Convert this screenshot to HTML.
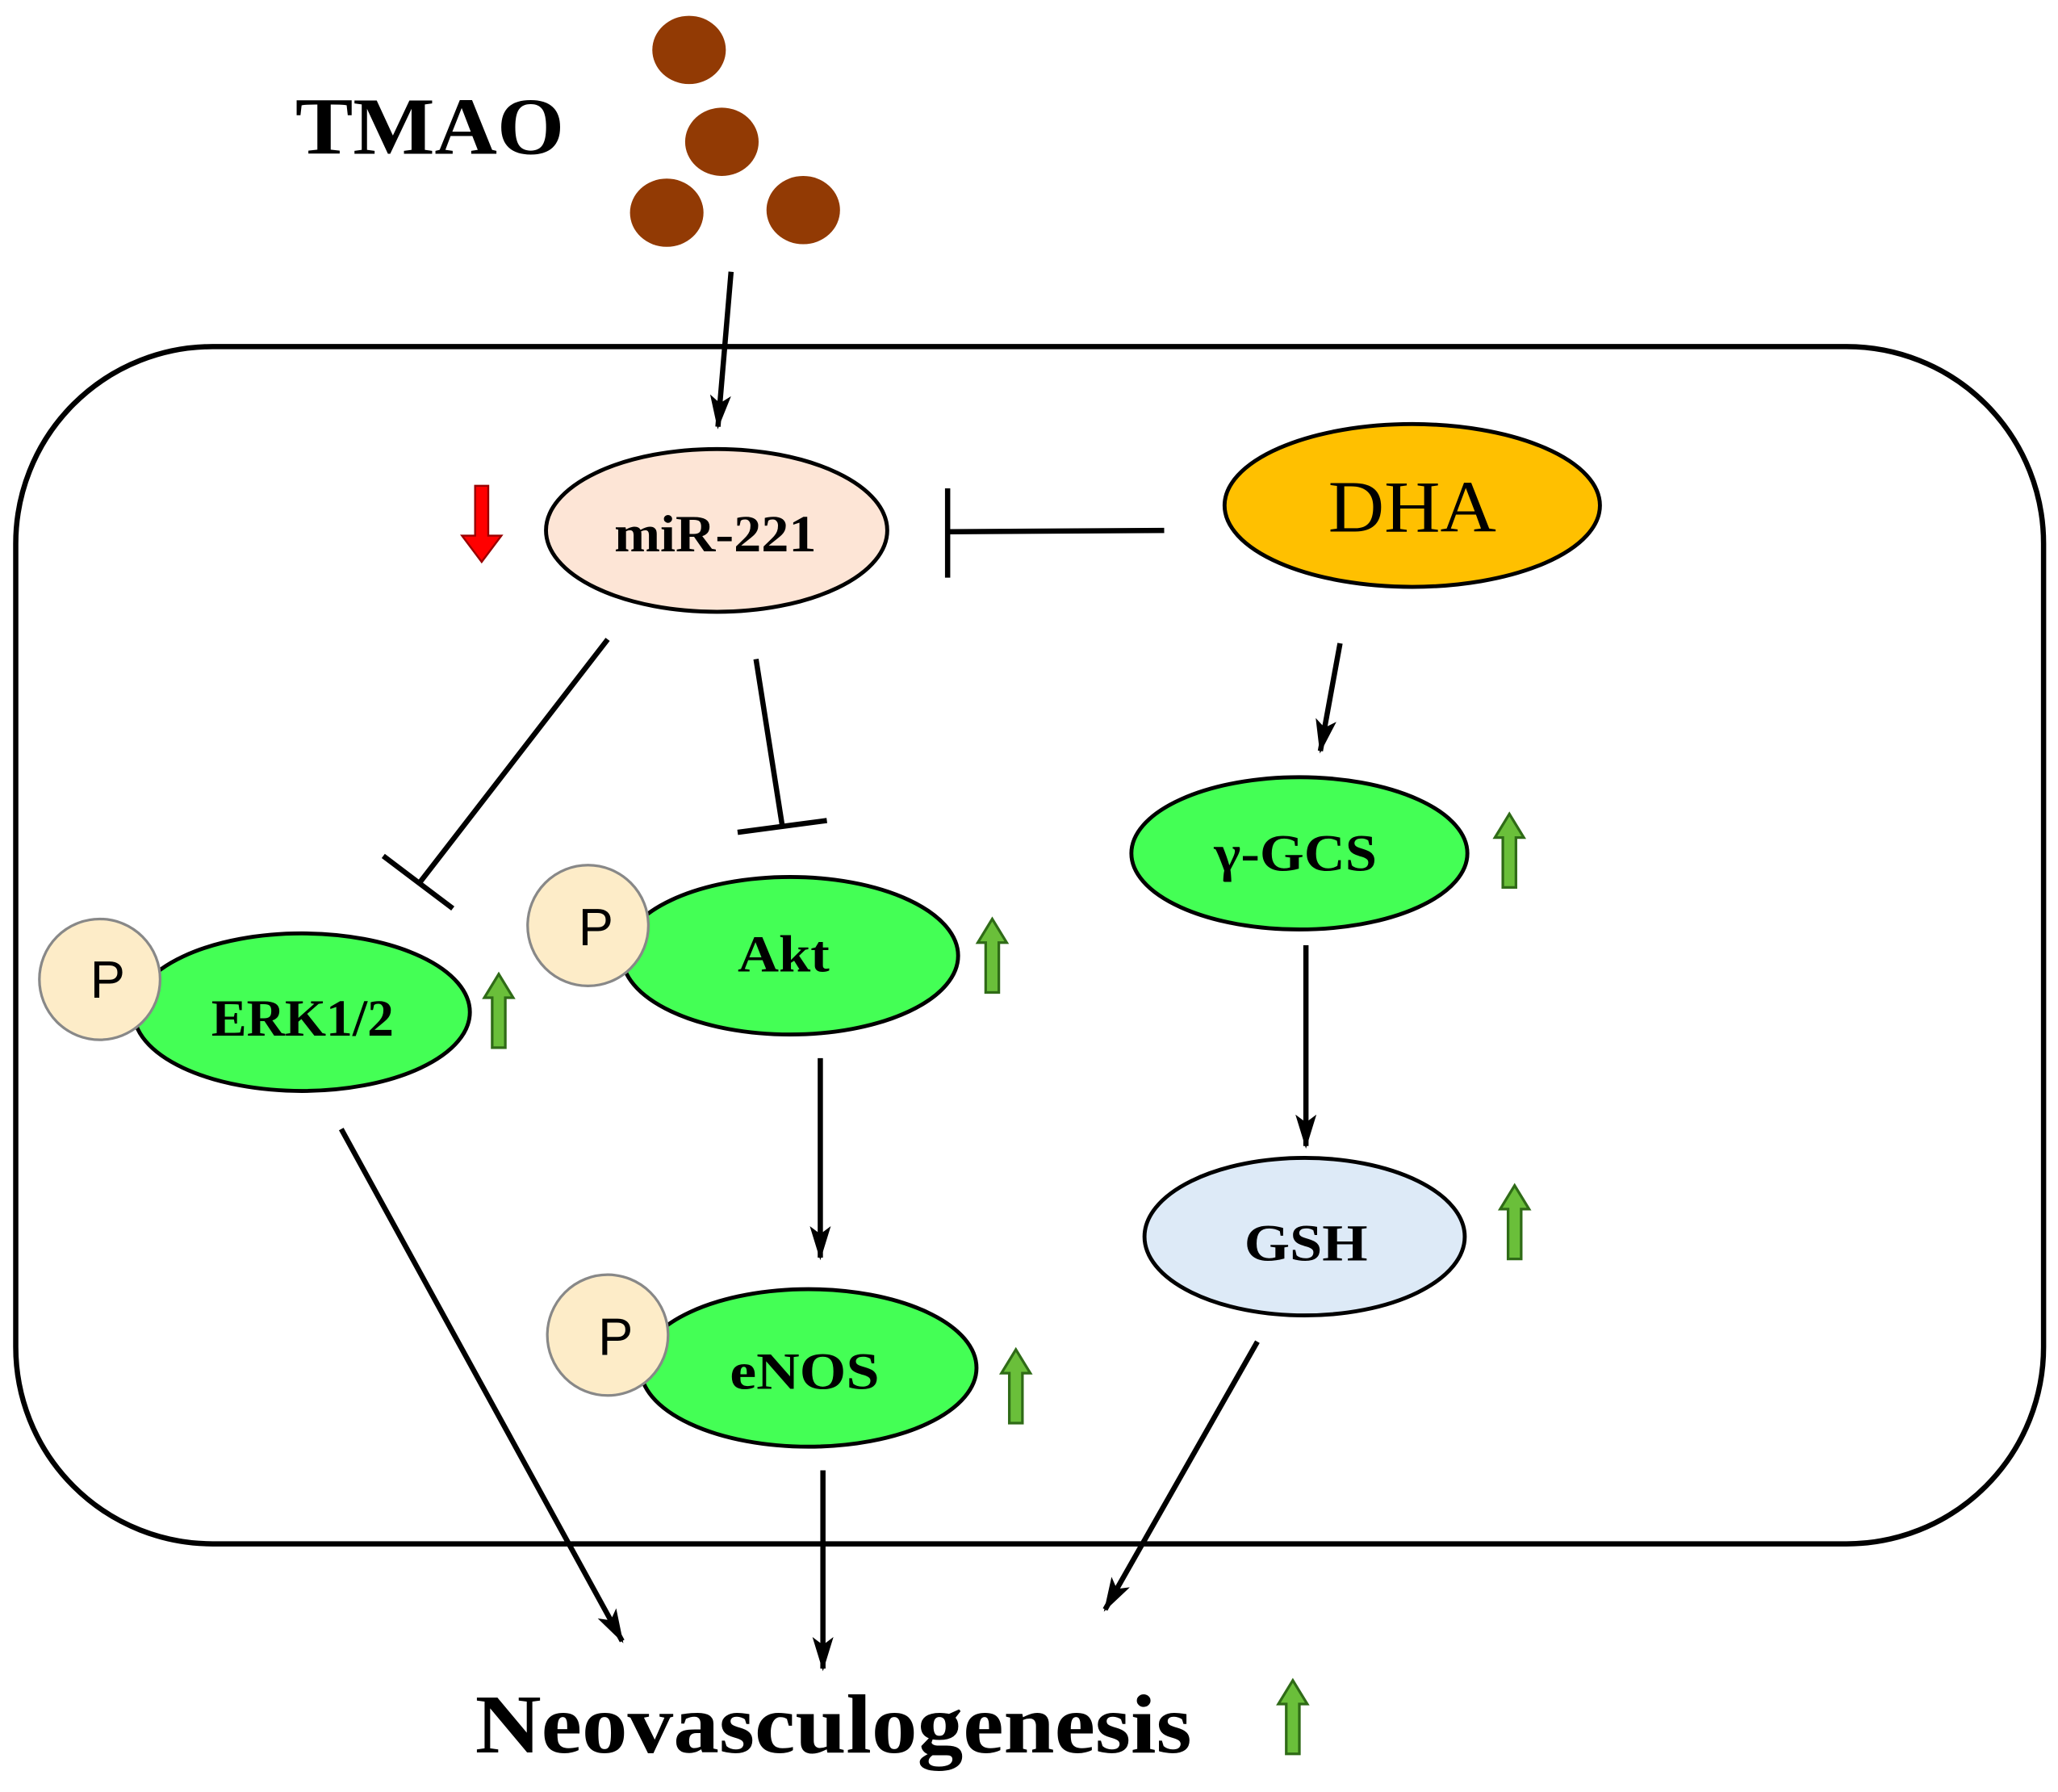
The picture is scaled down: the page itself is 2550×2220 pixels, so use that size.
<!DOCTYPE html>
<html><head><meta charset="utf-8"><style>html,body{margin:0;padding:0;background:#fff}svg{display:block}</style></head>
<body>
<svg width="2550" height="2220" viewBox="0 0 1568 1365" xmlns="http://www.w3.org/2000/svg">
<defs>
<marker id="ah2" markerWidth="26" markerHeight="22" refX="24" refY="11" orient="auto" markerUnits="userSpaceOnUse">
<path d="M0,3 L26,11 L0,19 L6,11 z" fill="#000"/>
</marker>
<g id="up"><path d="M-5,28 L-5,-10 L-11,-10 L0,-28 L11,-10 L5,-10 L5,28 Z" fill="#6abf3a" stroke="#2f6b17" stroke-width="2"/></g>
</defs>
<g font-family="'Liberation Serif',serif">
<text x="225" y="117" font-size="62" font-weight="bold" textLength="205" lengthAdjust="spacingAndGlyphs">TMAO</text>
<ellipse cx="525" cy="38" rx="28" ry="26" fill="#923a04"/>
<ellipse cx="550" cy="108" rx="28" ry="26" fill="#923a04"/>
<ellipse cx="508" cy="162" rx="28" ry="26" fill="#923a04"/>
<ellipse cx="612" cy="160" rx="28" ry="26" fill="#923a04"/>

<rect x="12" y="264" width="1545" height="912" rx="150" ry="150" fill="none" stroke="#000" stroke-width="4"/>

<g stroke="#000" stroke-width="4" fill="none">
<line x1="557" y1="207" x2="547" y2="325" marker-end="url(#ah2)"/>
<line x1="887" y1="404" x2="722" y2="405"/>
<line x1="722" y1="372" x2="722" y2="440"/>
<line x1="463" y1="487" x2="320" y2="672"/>
<line x1="292" y1="652" x2="345" y2="692"/>
<line x1="576" y1="502" x2="596" y2="629"/>
<line x1="562" y1="634" x2="630" y2="625"/>
<line x1="1021" y1="490" x2="1006" y2="572" marker-end="url(#ah2)"/>
<line x1="625" y1="806" x2="625" y2="958" marker-end="url(#ah2)"/>
<line x1="995" y1="720" x2="995" y2="873" marker-end="url(#ah2)"/>
<line x1="958" y1="1022" x2="842" y2="1226" marker-end="url(#ah2)"/>
<line x1="260" y1="860" x2="474" y2="1250" marker-end="url(#ah2)"/>
<line x1="627" y1="1120" x2="627" y2="1271" marker-end="url(#ah2)"/>
</g>

<ellipse cx="546" cy="404" rx="130" ry="62" fill="#fde5d6" stroke="#000" stroke-width="3"/>
<text x="468" y="420" font-size="40" font-weight="bold" textLength="154" lengthAdjust="spacingAndGlyphs">miR-221</text>
<path d="M362,370 L372,370 L372,408 L382,408 L367,428 L352,408 L362,408 Z" fill="#f00" stroke="#900" stroke-width="1.5"/>

<ellipse cx="1076" cy="385" rx="143" ry="62" fill="#ffc000" stroke="#000" stroke-width="3"/>
<text x="1012" y="405" font-size="56" textLength="128" lengthAdjust="spacingAndGlyphs">DHA</text>

<ellipse cx="990" cy="650" rx="128" ry="58" fill="#44ff55" stroke="#000" stroke-width="3"/>
<text x="925" y="663" font-size="40" font-weight="bold" textLength="124" lengthAdjust="spacingAndGlyphs">γ-GCS</text>
<use href="#up" x="1150" y="648"/>

<ellipse cx="602" cy="728" rx="128" ry="60" fill="#44ff55" stroke="#000" stroke-width="3"/>
<circle cx="448" cy="705" r="46" fill="#fdecc8" stroke="#888" stroke-width="2"/>
<text x="454" y="720" font-size="40" font-family="'Liberation Sans',sans-serif" text-anchor="middle">P</text>
<text x="562" y="740" font-size="40" font-weight="bold" textLength="70" lengthAdjust="spacingAndGlyphs">Akt</text>
<use href="#up" x="756" y="728"/>

<ellipse cx="230" cy="771" rx="128" ry="60" fill="#44ff55" stroke="#000" stroke-width="3"/>
<circle cx="76" cy="746" r="46" fill="#fdecc8" stroke="#888" stroke-width="2"/>
<text x="82" y="760" font-size="40" font-family="'Liberation Sans',sans-serif" text-anchor="middle">P</text>
<text x="161" y="789" font-size="40" font-weight="bold" textLength="139" lengthAdjust="spacingAndGlyphs">ERK1/2</text>
<use href="#up" x="380" y="770"/>

<ellipse cx="616" cy="1042" rx="128" ry="60" fill="#44ff55" stroke="#000" stroke-width="3"/>
<circle cx="463" cy="1017" r="46" fill="#fdecc8" stroke="#888" stroke-width="2"/>
<text x="469" y="1032" font-size="40" font-family="'Liberation Sans',sans-serif" text-anchor="middle">P</text>
<text x="556" y="1058" font-size="40" font-weight="bold" textLength="114" lengthAdjust="spacingAndGlyphs">eNOS</text>
<use href="#up" x="774" y="1056"/>

<ellipse cx="994" cy="942" rx="122" ry="60" fill="#ddeaf7" stroke="#000" stroke-width="3"/>
<text x="948" y="960" font-size="40" font-weight="bold" textLength="94" lengthAdjust="spacingAndGlyphs">GSH</text>
<use href="#up" x="1154" y="931"/>

<text x="362" y="1335" font-size="64" font-weight="bold" textLength="546" lengthAdjust="spacingAndGlyphs">Neovasculogenesis</text>
<use href="#up" x="985" y="1308"/>
</g>
</svg>
</body></html>
